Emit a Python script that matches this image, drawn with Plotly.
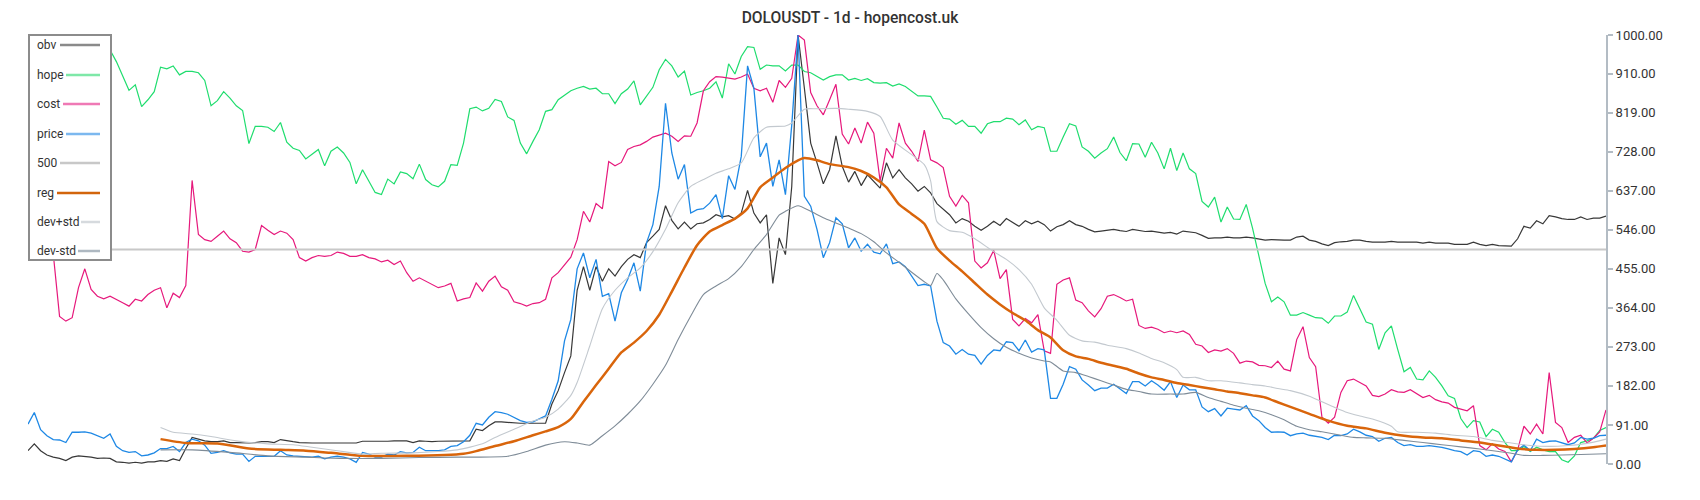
import plotly.graph_objects as go

# ---------------- data ----------------
price = [93, 120, 80, 66, 57, 56, 50, 74, 74, 75, 72, 66, 60, 70, 41, 31, 27, 29, 19, 21,
         26, 36, 36, 41, 29, 50, 58, 54, 44, 25, 27, 31, 26, 23, 23, 6, 18, 18, 18, 18,
         31, 21, 19, 18, 18, 16, 18, 12, 16, 18, 16, 12, 4, 27, 23, 16, 16, 23, 21, 29,
         26, 27, 39, 31, 31, 31, 33, 41, 43, 52, 67, 95, 91, 109, 122, 120, 116, 109, 101, 97,
         98, 105, 112, 151, 194, 287, 337, 455, 492, 434, 477, 391, 397, 333, 399, 430, 469, 403, 516, 558,
         647, 841, 725, 664, 698, 585, 593, 595, 608, 628, 572, 672, 640, 717, 928, 876, 716, 748, 647, 709,
         628, 790, 1000, 624, 601, 547, 481, 516, 574, 560, 504, 527, 496, 512, 494, 490, 513, 467, 471, 460,
         438, 416, 419, 415, 333, 283, 275, 256, 267, 256, 253, 233, 253, 266, 264, 285, 283, 264, 289, 261,
         269, 266, 153, 153, 186, 227, 221, 196, 184, 171, 177, 177, 186, 174, 164, 192, 192, 182, 194, 184,
         172, 192, 155, 184, 173, 173, 133, 122, 129, 112, 130, 128, 126, 136, 112, 101, 85, 74, 75, 74,
         66, 70, 72, 67, 64, 62, 57, 67, 66, 70, 81, 75, 67, 64, 53, 60, 62, 50, 43, 45,
         41, 41, 43, 41, 39, 35, 31, 29, 21, 31, 29, 18, 21, 18, 12, 5, 33, 44, 31, 58,
         50, 53, 54, 50, 45, 49, 62, 58, 60, 66, 67]

cost = [540, 530, 520, 505, 490, 344, 333, 341, 411, 455, 407, 391, 385, 391, 384, 376, 368, 384, 380, 395,
        405, 411, 364, 398, 388, 416, 661, 535, 523, 519, 531, 543, 525, 516, 496, 494, 500, 556, 545, 535,
        543, 538, 523, 481, 473, 481, 486, 484, 486, 494, 491, 484, 484, 488, 481, 478, 471, 475, 465, 473,
        446, 426, 434, 426, 419, 411, 415, 421, 380, 385, 388, 422, 403, 426, 438, 413, 405, 378, 374, 368,
        374, 376, 384, 434, 446, 463, 482, 523, 589, 564, 607, 595, 705, 695, 703, 733, 740, 744, 752, 762,
        767, 771, 764, 752, 765, 764, 795, 870, 891, 903, 902, 899, 897, 902, 909, 876, 870, 876, 843, 894,
        878, 899, 1000, 988, 866, 835, 814, 849, 885, 769, 746, 783, 748, 797, 771, 660, 736, 713, 795, 748,
        729, 705, 778, 709, 702, 691, 624, 601, 626, 609, 473, 457, 469, 498, 432, 453, 337, 322, 339, 329,
        348, 264, 258, 419, 429, 434, 382, 376, 357, 343, 362, 391, 395, 388, 380, 384, 323, 316, 319, 314,
        306, 310, 306, 310, 302, 279, 275, 260, 266, 263, 269, 258, 235, 240, 238, 230, 229, 225, 240, 221,
        217, 290, 320, 248, 227, 109, 95, 109, 167, 194, 198, 190, 182, 160, 157, 163, 173, 168, 167, 173,
        165, 155, 160, 150, 145, 142, 132, 128, 124, 136, 43, 33, 47, 35, 29, 5, 33, 88, 70, 93,
        70, 213, 97, 85, 50, 62, 67, 49, 60, 75, 126]

hope = [985, 990, 978, 982, 990, 986, 975, 978, 984, 980, 972, 976, 968, 965, 938, 903, 871, 884, 833, 849,
        868, 925, 921, 928, 907, 915, 915, 912, 894, 835, 847, 868, 853, 835, 824, 747, 787, 787, 785, 775,
        796, 750, 736, 731, 711, 722, 733, 695, 729, 739, 725, 703, 653, 686, 659, 633, 628, 664, 653, 681,
        677, 665, 699, 663, 651, 646, 659, 698, 696, 748, 828, 832, 823, 829, 850, 845, 809, 801, 748, 723,
        752, 779, 822, 826, 849, 860, 870, 876, 880, 874, 876, 863, 863, 840, 863, 874, 893, 837, 858, 878,
        919, 943, 928, 902, 916, 860, 866, 870, 876, 891, 853, 933, 909, 950, 973, 971, 920, 930, 928, 928,
        916, 930, 930, 915, 912, 903, 895, 903, 907, 907, 895, 899, 894, 898, 889, 888, 889, 881, 886, 880,
        868, 858, 858, 857, 832, 806, 804, 792, 801, 787, 787, 771, 793, 798, 798, 806, 804, 791, 802, 779,
        787, 784, 729, 729, 762, 793, 788, 739, 729, 713, 725, 735, 762, 726, 707, 747, 746, 715, 750, 725,
        688, 736, 684, 725, 688, 677, 612, 599, 622, 564, 599, 571, 570, 605, 550, 488, 421, 378, 389, 378,
        347, 347, 353, 347, 341, 340, 328, 345, 345, 354, 393, 362, 331, 326, 267, 306, 322, 267, 215, 225,
        198, 196, 217, 202, 182, 159, 153, 106, 85, 101, 98, 64, 81, 74, 50, 31, 31, 41, 29, 39,
        33, 29, 29, 10, 4, 19, 50, 54, 60, 78, 85]

obv = [31, 47, 31, 21, 16, 13, 8, 16, 19, 18, 16, 13, 14, 13, 5, 4, 2, 4, 2, 5,
       5, 8, 6, 12, 8, 36, 62, 58, 54, 52, 52, 54, 50, 50, 49, 49, 50, 52, 52, 50,
       57, 54, 52, 50, 49, 49, 49, 49, 49, 50, 49, 49, 49, 53, 53, 52, 52, 53, 54, 54,
       54, 50, 54, 53, 52, 53, 53, 53, 53, 53, 54, 81, 78, 89, 98, 98, 97, 95, 95, 95,
       95, 95, 95, 140, 171, 213, 252, 405, 460, 405, 460, 426, 455, 438, 460, 477, 488, 481, 516, 531,
       547, 602, 568, 548, 564, 548, 560, 562, 570, 581, 576, 579, 571, 585, 638, 585, 562, 581, 421, 527,
       488, 647, 1000, 876, 748, 702, 653, 686, 765, 694, 657, 682, 649, 674, 659, 643, 702, 667, 686, 667,
       653, 636, 647, 632, 607, 595, 581, 562, 572, 566, 554, 545, 554, 566, 556, 572, 562, 554, 567, 560,
       566, 558, 543, 553, 558, 567, 558, 554, 547, 541, 543, 545, 547, 544, 542, 547, 544, 542, 543, 540,
       538, 540, 536, 543, 541, 539, 533, 526, 527, 527, 529, 527, 527, 529, 527, 525, 522, 523, 522, 522,
       522, 529, 531, 522, 519, 513, 509, 516, 518, 519, 522, 522, 519, 517, 517, 517, 519, 517, 517, 517,
       517, 515, 517, 515, 515, 515, 512, 512, 512, 517, 512, 509, 512, 509, 509, 508, 525, 554, 550, 567,
       560, 579, 576, 572, 570, 570, 576, 570, 573, 573, 578]

level_500 = 500

reg_idx = [21, 25, 30, 35, 40, 44, 48, 53, 60, 66, 69, 71, 74, 77, 80, 82, 84, 86, 88, 90,
           92, 94, 96, 98, 100, 102, 104, 106, 108, 110, 112, 114, 116, 118, 120, 122, 123, 125, 127, 130,
           132, 134, 136, 138, 140, 142, 144, 146, 148, 150, 152, 154, 156, 158, 160, 162, 164, 166, 168, 170,
           172, 174, 176, 178, 180, 182, 184, 186, 188, 190, 192, 194, 196, 198, 200, 203, 206, 209, 212, 215,
           218, 221, 224, 227, 230, 233, 236, 239, 242, 245, 248, 250]
reg = [58, 49, 48, 36, 33, 31, 26, 19, 19, 21, 24, 30, 42, 53, 67, 76, 86, 105, 145, 184,
       222, 260, 283, 310, 348, 402, 458, 510, 542, 557, 572, 596, 645, 668, 690, 708, 713, 708, 699, 692,
       683, 668, 645, 605, 583, 560, 503, 474, 449, 422, 395, 372, 352, 335, 312, 295, 265, 251, 245, 236,
       229, 222, 211, 202, 196, 189, 184, 179, 174, 169, 165, 160, 155, 144, 133, 117, 101, 89, 83, 73,
       66, 62, 60, 55, 50, 43, 36, 33, 33, 35, 39, 43]

dev_plus_idx = [21, 23, 26, 29, 33, 38, 42, 45, 49, 53, 56, 61, 65, 68, 72, 74, 77, 80, 82, 84,
                86, 87, 89, 91, 93, 95, 97, 99, 101, 103, 105, 107, 109, 111, 113, 115, 117, 120, 121, 123,
                125, 128, 130, 133, 135, 137, 140, 142, 143, 144, 146, 148, 150, 153, 155, 157, 159, 161, 163, 165,
                167, 169, 171, 174, 176, 178, 180, 182, 183, 185, 187, 189, 192, 194, 196, 198, 200, 203, 205, 207,
                209, 211, 213, 216, 217, 220, 223, 226, 229, 232, 235, 238, 241, 244, 247, 250]
dev_plus = [85, 74, 70, 64, 54, 47, 45, 39, 31, 23, 25, 26, 29, 33, 47, 62, 81, 100, 109, 128,
            160, 190, 275, 362, 405, 434, 457, 495, 547, 609, 647, 663, 678, 688, 702, 760, 785, 788, 795, 827,
            828, 829, 827, 822, 810, 755, 721, 698, 660, 565, 544, 540, 525, 495, 477, 453, 419, 364, 335, 300,
            287, 284, 277, 269, 259, 246, 236, 220, 202, 202, 194, 194, 189, 185, 182, 176, 171, 158, 145, 132,
            120, 112, 105, 88, 75, 74, 72, 67, 64, 55, 49, 43, 41, 43, 48, 58]

dev_minus_idx = [21, 26, 32, 38, 44, 50, 56, 62, 68, 71, 76, 79, 82, 85, 87, 89, 91, 93, 95, 97,
                 99, 101, 103, 105, 107, 109, 111, 113, 115, 117, 119, 120, 122, 124, 126, 128, 130, 132, 134, 136,
                 138, 140, 142, 143, 144, 145, 147, 149, 151, 153, 155, 157, 159, 161, 162, 164, 166, 168, 170, 172,
                 174, 176, 178, 181, 183, 185, 187, 189, 191, 193, 195, 197, 199, 201, 203, 205, 208, 210, 212, 215,
                 218, 221, 224, 227, 230, 233, 235, 237, 240, 243, 246, 250]
dev_minus = [33, 33, 27, 19, 16, 13, 13, 15, 16, 16, 18, 29, 44, 52, 49, 44, 66, 89, 116, 147,
             186, 230, 290, 345, 395, 415, 432, 460, 500, 535, 580, 589, 602, 589, 574, 562, 550, 537, 518, 492,
             470, 447, 425, 416, 444, 429, 385, 350, 318, 292, 272, 258, 247, 240, 238, 217, 213, 204, 194, 184,
             174, 169, 163, 163, 163, 167, 155, 146, 137, 130, 124, 115, 103, 88, 80, 75, 67, 62, 61, 60,
             55, 50, 45, 40, 35, 29, 25, 20, 20, 21, 22, 24]

tick_vals = [0, 91, 182, 273, 364, 455, 546, 637, 728, 819, 910, 1000]
legend_names = ["obv", "hope", "cost", "price", "500", "reg", "dev+std", "dev-std"]
title_text = "DOLOUSDT - 1d - hopencost.uk"

# ---------------- styling ----------------
W, H = 1700, 500
ML, MR, MT, MB = 28, 94, 35, 36
PW, PH = W - ML - MR, H - MT - MB
FONT = "Roboto, 'Open Sans', sans-serif"

C_OBV = "#383838"
C_HOPE = "#1fdd6e"
C_COST = "#e6197c"
C_PRICE = "#1e88e5"
C_500 = "#c8c8c8"
C_REG = "#d9650b"
C_DEVP = "#c3c9cf"
C_DEVM = "#7f8c98"

idx = list(range(len(price)))
n_last = idx[-1]

fig = go.Figure()
fig.add_trace(go.Scatter(x=idx, y=obv, mode="lines", name="obv",
                         line=dict(color=C_OBV, width=1.2)))
fig.add_trace(go.Scatter(x=idx, y=hope, mode="lines", name="hope",
                         line=dict(color=C_HOPE, width=1.2)))
fig.add_trace(go.Scatter(x=idx, y=cost, mode="lines", name="cost",
                         line=dict(color=C_COST, width=1.2)))
fig.add_trace(go.Scatter(x=idx, y=price, mode="lines", name="price",
                         line=dict(color=C_PRICE, width=1.3)))
fig.add_trace(go.Scatter(x=[idx[0], n_last], y=[level_500, level_500], mode="lines", name="500",
                         line=dict(color=C_500, width=2)))
fig.add_trace(go.Scatter(x=reg_idx, y=reg, mode="lines", name="reg",
                         line=dict(color=C_REG, width=2.5, shape="spline", smoothing=0.6)))
fig.add_trace(go.Scatter(x=dev_plus_idx, y=dev_plus, mode="lines", name="dev+std",
                         line=dict(color=C_DEVP, width=1.1, shape="spline", smoothing=0.6)))
fig.add_trace(go.Scatter(x=dev_minus_idx, y=dev_minus, mode="lines", name="dev-std",
                         line=dict(color=C_DEVM, width=1.1, shape="spline", smoothing=0.6)))

# ---------------- custom legend (text followed by a line sample) ----------------
def px_x(x):
    return (x - ML) / PW

def px_y(y):
    return (H - MB - y) / PH

shapes = [dict(type="rect", xref="paper", yref="paper",
               x0=px_x(29), x1=px_x(111), y0=px_y(260), y1=px_y(35),
               fillcolor="white", line=dict(color="#8c8c8c", width=2), layer="above")]
annotations = []
leg_rows_y = [45, 75, 104, 134, 163, 193, 222, 251]
leg_sample_x0 = [60, 66, 63, 66, 60, 57, 81, 78]
leg_colors = ["#8a8a8a", "#7ee8a8", "#ef79b5", "#7cb8ef", "#c8c8c8", "#d2650c", "#d6dade", "#aeb8c1"]
for name, yy, sx, col in zip(legend_names, leg_rows_y, leg_sample_x0, leg_colors):
    annotations.append(dict(xref="paper", yref="paper", x=px_x(35), y=px_y(yy),
                            xanchor="left", yanchor="middle", text=name, showarrow=False,
                            font=dict(family=FONT, size=12, color="#333333")))
    shapes.append(dict(type="line", xref="paper", yref="paper",
                       x0=px_x(sx), x1=px_x(100), y0=px_y(yy), y1=px_y(yy),
                       line=dict(color=col, width=2.5), layer="above"))

fig.update_layout(
    width=W, height=H,
    margin=dict(l=ML, r=MR, t=MT, b=MB),
    paper_bgcolor="white", plot_bgcolor="white",
    showlegend=False,
    title=dict(text=title_text, x=0.5, xanchor="center", y=1 - 18 / H, yanchor="middle",
               font=dict(family=FONT, size=15.6, color="#333333", weight=500)),
    xaxis=dict(visible=False, range=[idx[0], n_last]),
    yaxis=dict(side="right", range=[0, 1000], tickvals=tick_vals,
               ticktext=[f"{v:.2f}" for v in tick_vals],
               showgrid=False, zeroline=False, showline=True,
               linecolor="#b3bcc4", linewidth=2, ticks="outside", ticklen=5,
               tickcolor="#b3bcc4", tickwidth=1.5,
               tickfont=dict(family=FONT, size=13, color="#333333")),
    shapes=shapes, annotations=annotations,
)

# the page's default 8px body margin would shift the whole figure; remove it
fig.write_html("out.html", config={"displayModeBar": False},
               post_script="document.body.style.margin='0px';")
